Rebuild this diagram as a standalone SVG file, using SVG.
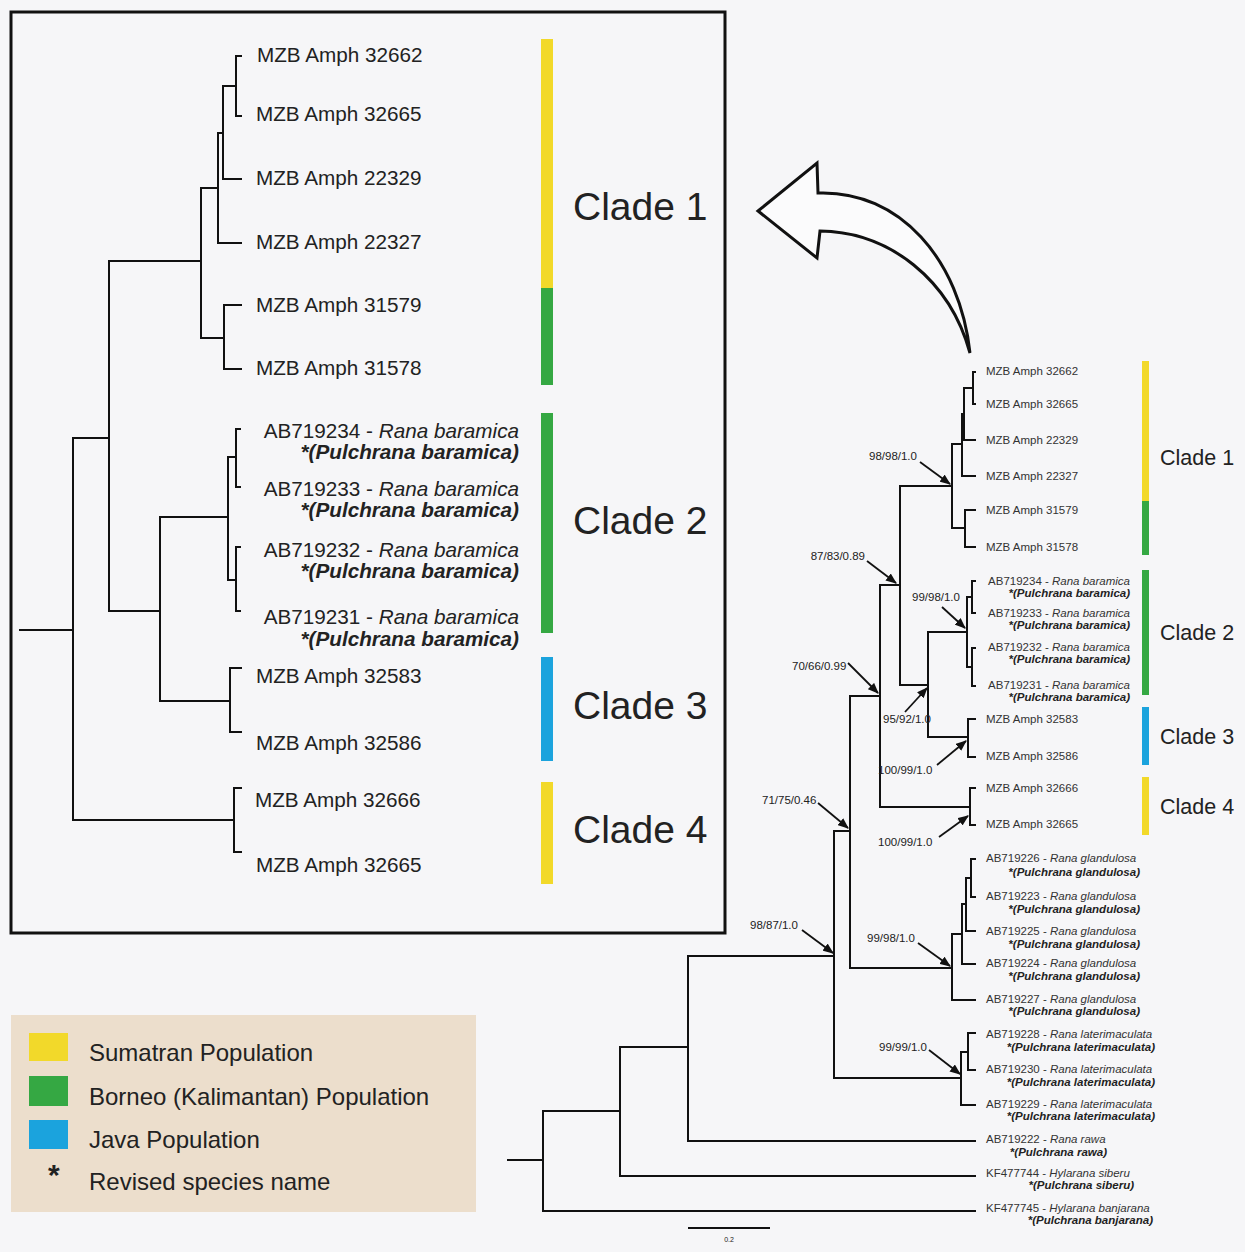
<svg xmlns="http://www.w3.org/2000/svg" width="1245" height="1252" viewBox="0 0 1245 1252">
<defs>
<style>
.t{font-family:"Liberation Sans",Arial,sans-serif;fill:#222}
.L{font-size:20.7px}
.Li{font-size:20.7px;font-style:italic}
.Lb{font-size:20.7px;font-style:italic;font-weight:bold}
.C{font-size:39px}
.R{font-size:11.5px;fill:#333}
.Rb{font-size:11.5px;font-style:italic;font-weight:bold;fill:#222}
.RC{font-size:21.5px}
.A{font-size:11.5px;fill:#222}
.G{font-size:24px}
.br{fill:none;stroke:#111;stroke-width:2;stroke-linecap:square}
.ar{fill:none;stroke:#111;stroke-width:1.8}
</style>
<marker id="ah" viewBox="0 0 10 8" refX="9" refY="4" markerWidth="11" markerHeight="9" markerUnits="userSpaceOnUse" orient="auto">
<path d="M0,0 L10,4 L0,8 Z" fill="#111"/>
</marker>
</defs>
<rect x="0" y="0" width="1245" height="1252" fill="#f6f6f8"/>

<!-- inset frame -->
<g id="inset">
<rect x="11" y="12" width="714" height="921" fill="none" stroke="#111" stroke-width="3"/>
</g>

<!-- connectors: tree branches -->
<g id="connectors">
<!-- inset tree -->
<path class="br" d="M20,630 H73"/>
<path class="br" d="M109,438 H73 V820 H234"/>
<path class="br" d="M201,261 H109 V611 H160"/>
<path class="br" d="M218,188 H201 V338 H224"/>
<path class="br" d="M223,133 H218 V243 H241"/>
<path class="br" d="M236,86 H223 V179 H241"/>
<path class="br" d="M241,56 H236 V116 H241"/>
<path class="br" d="M241,305 H224 V369 H241"/>
<path class="br" d="M228,517 H160 V701 H230"/>
<path class="br" d="M236,457 H228 V580 H236"/>
<path class="br" d="M240,429 H236 V487 H240"/>
<path class="br" d="M240,547 H236 V611 H240"/>
<path class="br" d="M241,668 H230 V732 H241"/>
<path class="br" d="M241,788 H234 V852 H241"/>
<!-- main tree -->
<path class="br" d="M508,1160 H543"/>
<path class="br" d="M620,1111 H543 V1211 H975"/>
<path class="br" d="M688,1047 H620 V1176 H975"/>
<path class="br" d="M834,956 H688 V1141 H975"/>
<path class="br" d="M850,831 H834 V1078 H961"/>
<path class="br" d="M880,696 H850 V968 H952"/>
<path class="br" d="M900,585 H880 V807 H970"/>
<path class="br" d="M952,486 H900 V685 H928"/>
<path class="br" d="M962,444 H952 V528 H965"/>
<path class="br" d="M964,414 H962 V476 H975"/>
<path class="br" d="M973,388 H964 V440 H975"/>
<path class="br" d="M975,372 H973 V404 H975"/>
<path class="br" d="M975,510 H965 V547 H975"/>
<path class="br" d="M967,632 H928 V737 H968"/>
<path class="br" d="M972,597 H967 V667 H972"/>
<path class="br" d="M975,581 H972 V613 H975"/>
<path class="br" d="M975,648 H972 V686 H975"/>
<path class="br" d="M975,719 H968 V757 H975"/>
<path class="br" d="M975,788 H970 V825 H975"/>
<path class="br" d="M962,934 H952 V1000 H975"/>
<path class="br" d="M966,904 H962 V964 H975"/>
<path class="br" d="M971,878 H966 V931 H975"/>
<path class="br" d="M975,859 H971 V897 H975"/>
<path class="br" d="M968,1052 H961 V1105 H975"/>
<path class="br" d="M975,1033 H968 V1070 H975"/>
<!-- support arrows -->
<line class="ar" x1="920" y1="462" x2="950" y2="484" marker-end="url(#ah)"/>
<line class="ar" x1="867" y1="561" x2="896" y2="583" marker-end="url(#ah)"/>
<line class="ar" x1="942" y1="607" x2="965" y2="628" marker-end="url(#ah)"/>
<line class="ar" x1="848" y1="663" x2="878" y2="693" marker-end="url(#ah)"/>
<line class="ar" x1="905" y1="712" x2="927" y2="688" marker-end="url(#ah)"/>
<line class="ar" x1="937" y1="765" x2="966" y2="741" marker-end="url(#ah)"/>
<line class="ar" x1="818" y1="803" x2="848" y2="828" marker-end="url(#ah)"/>
<line class="ar" x1="939" y1="837" x2="968" y2="816" marker-end="url(#ah)"/>
<line class="ar" x1="802" y1="930" x2="833" y2="953" marker-end="url(#ah)"/>
<line class="ar" x1="918" y1="943" x2="950" y2="966" marker-end="url(#ah)"/>
<line class="ar" x1="929" y1="1050" x2="960" y2="1074" marker-end="url(#ah)"/>
<!-- scale bar -->
<path d="M688,1228 H770" stroke="#111" stroke-width="2"/>
</g>

<!-- big curved arrow -->
<g id="zoom-arrow">
<path d="M758,211 L817,163 L818,193 C900,190 960,260 970,353 C950,280 890,232 820,231 L817,258 Z" fill="#fbfbfc" stroke="#111" stroke-width="3" stroke-linejoin="miter"/>
</g>

<!-- inset leaves -->
<g id="inset-leaves">
<text class="t L" x="257" y="62">MZB Amph 32662</text>
<text class="t L" x="256" y="121">MZB Amph 32665</text>
<text class="t L" x="256" y="185">MZB Amph 22329</text>
<text class="t L" x="256" y="249">MZB Amph 22327</text>
<text class="t L" x="256" y="312">MZB Amph 31579</text>
<text class="t L" x="256" y="375">MZB Amph 31578</text>
<text class="t L" x="519" y="438" text-anchor="end">AB719234 - <tspan class="Li">Rana baramica</tspan></text>
<text class="t Lb" x="519" y="459" text-anchor="end">*(Pulchrana baramica)</text>
<text class="t L" x="519" y="496" text-anchor="end">AB719233 - <tspan class="Li">Rana baramica</tspan></text>
<text class="t Lb" x="519" y="517" text-anchor="end">*(Pulchrana baramica)</text>
<text class="t L" x="519" y="557" text-anchor="end">AB719232 - <tspan class="Li">Rana baramica</tspan></text>
<text class="t Lb" x="519" y="578" text-anchor="end">*(Pulchrana baramica)</text>
<text class="t L" x="519" y="624" text-anchor="end">AB719231 - <tspan class="Li">Rana baramica</tspan></text>
<text class="t Lb" x="519" y="646" text-anchor="end">*(Pulchrana baramica)</text>
<text class="t L" x="256" y="683">MZB Amph 32583</text>
<text class="t L" x="256" y="750">MZB Amph 32586</text>
<text class="t L" x="255" y="807">MZB Amph 32666</text>
<text class="t L" x="256" y="872">MZB Amph 32665</text>
</g>

<!-- inset clade bars -->
<g id="inset-clade1">
<rect x="541" y="39" width="12" height="249" fill="#f2d92a"/>
<rect x="541" y="288" width="12" height="97" fill="#35a843"/>
<text class="t C" x="573" y="220">Clade 1</text>
</g>
<g id="inset-clade2">
<rect x="541" y="413" width="12" height="220" fill="#35a843"/>
<text class="t C" x="573" y="534">Clade 2</text>
</g>
<g id="inset-clade3">
<rect x="541" y="657" width="12" height="104" fill="#1ba3dd"/>
<text class="t C" x="573" y="719">Clade 3</text>
</g>
<g id="inset-clade4">
<rect x="541" y="782" width="12" height="102" fill="#f2d92a"/>
<text class="t C" x="573" y="843">Clade 4</text>
</g>

<!-- main tree leaves -->
<g id="main-leaves">
<text class="t R" x="986" y="375">MZB Amph 32662</text>
<text class="t R" x="986" y="408">MZB Amph 32665</text>
<text class="t R" x="986" y="444">MZB Amph 22329</text>
<text class="t R" x="986" y="480">MZB Amph 22327</text>
<text class="t R" x="986" y="514">MZB Amph 31579</text>
<text class="t R" x="986" y="551">MZB Amph 31578</text>
<text class="t R" x="1130" y="585" text-anchor="end">AB719234 - <tspan font-style="italic">Rana baramica</tspan></text>
<text class="t Rb" x="1130" y="597" text-anchor="end">*(Pulchrana baramica)</text>
<text class="t R" x="1130" y="617" text-anchor="end">AB719233 - <tspan font-style="italic">Rana baramica</tspan></text>
<text class="t Rb" x="1130" y="629" text-anchor="end">*(Pulchrana baramica)</text>
<text class="t R" x="1130" y="651" text-anchor="end">AB719232 - <tspan font-style="italic">Rana baramica</tspan></text>
<text class="t Rb" x="1130" y="663" text-anchor="end">*(Pulchrana baramica)</text>
<text class="t R" x="1130" y="689" text-anchor="end">AB719231 - <tspan font-style="italic">Rana baramica</tspan></text>
<text class="t Rb" x="1130" y="701" text-anchor="end">*(Pulchrana baramica)</text>
<text class="t R" x="986" y="723">MZB Amph 32583</text>
<text class="t R" x="986" y="760">MZB Amph 32586</text>
<text class="t R" x="986" y="792">MZB Amph 32666</text>
<text class="t R" x="986" y="828">MZB Amph 32665</text>
<text class="t R" x="986" y="862">AB719226 - <tspan font-style="italic">Rana glandulosa</tspan></text>
<text class="t Rb" x="1140" y="876" text-anchor="end">*(Pulchrana glandulosa)</text>
<text class="t R" x="986" y="900">AB719223 - <tspan font-style="italic">Rana glandulosa</tspan></text>
<text class="t Rb" x="1140" y="913" text-anchor="end">*(Pulchrana glandulosa)</text>
<text class="t R" x="986" y="935">AB719225 - <tspan font-style="italic">Rana glandulosa</tspan></text>
<text class="t Rb" x="1140" y="948" text-anchor="end">*(Pulchrana glandulosa)</text>
<text class="t R" x="986" y="967">AB719224 - <tspan font-style="italic">Rana glandulosa</tspan></text>
<text class="t Rb" x="1140" y="980" text-anchor="end">*(Pulchrana glandulosa)</text>
<text class="t R" x="986" y="1003">AB719227 - <tspan font-style="italic">Rana glandulosa</tspan></text>
<text class="t Rb" x="1140" y="1015" text-anchor="end">*(Pulchrana glandulosa)</text>
<text class="t R" x="986" y="1038">AB719228 - <tspan font-style="italic">Rana laterimaculata</tspan></text>
<text class="t Rb" x="1155" y="1051" text-anchor="end">*(Pulchrana laterimaculata)</text>
<text class="t R" x="986" y="1073">AB719230 - <tspan font-style="italic">Rana laterimaculata</tspan></text>
<text class="t Rb" x="1155" y="1086" text-anchor="end">*(Pulchrana laterimaculata)</text>
<text class="t R" x="986" y="1108">AB719229 - <tspan font-style="italic">Rana laterimaculata</tspan></text>
<text class="t Rb" x="1155" y="1120" text-anchor="end">*(Pulchrana laterimaculata)</text>
<text class="t R" x="986" y="1143">AB719222 - <tspan font-style="italic">Rana rawa</tspan></text>
<text class="t Rb" x="1107" y="1156" text-anchor="end">*(Pulchrana rawa)</text>
<text class="t R" x="986" y="1177">KF477744 - <tspan font-style="italic">Hylarana siberu</tspan></text>
<text class="t Rb" x="1134" y="1189" text-anchor="end">*(Pulchrana siberu)</text>
<text class="t R" x="986" y="1212">KF477745 - <tspan font-style="italic">Hylarana banjarana</tspan></text>
<text class="t Rb" x="1153" y="1224" text-anchor="end">*(Pulchrana banjarana)</text>
</g>

<!-- support values -->
<g id="supports">
<text class="t A" x="869" y="460">98/98/1.0</text>
<text class="t A" x="865" y="560" text-anchor="end">87/83/0.89</text>
<text class="t A" x="912" y="601">99/98/1.0</text>
<text class="t A" x="792" y="670">70/66/0.99</text>
<text class="t A" x="883" y="723" font-size="10.5" fill="#444">95/92/1.0</text>
<text class="t A" x="878" y="774">100/99/1.0</text>
<text class="t A" x="762" y="804">71/75/0.46</text>
<text class="t A" x="878" y="846">100/99/1.0</text>
<text class="t A" x="750" y="929">98/87/1.0</text>
<text class="t A" x="867" y="942">99/98/1.0</text>
<text class="t A" x="879" y="1051">99/99/1.0</text>
<text class="t" x="729" y="1242" font-size="7" text-anchor="middle">0.2</text>
</g>

<!-- main clade bars -->
<g id="main-clade1">
<rect x="1142" y="361" width="7" height="140" fill="#f2d92a"/>
<rect x="1142" y="501" width="7" height="54" fill="#35a843"/>
<text class="t RC" x="1160" y="465">Clade 1</text>
</g>
<g id="main-clade2">
<rect x="1142" y="570" width="7" height="125" fill="#35a843"/>
<text class="t RC" x="1160" y="640">Clade 2</text>
</g>
<g id="main-clade3">
<rect x="1142" y="707" width="7" height="58" fill="#1ba3dd"/>
<text class="t RC" x="1160" y="744">Clade 3</text>
</g>
<g id="main-clade4">
<rect x="1142" y="777" width="7" height="58" fill="#f2d92a"/>
<text class="t RC" x="1160" y="814">Clade 4</text>
</g>

<!-- legend -->
<g id="legend">
<rect x="11" y="1015" width="465" height="197" fill="#ecdecc"/>
<rect x="29" y="1033" width="39" height="28" fill="#f2d92a"/>
<rect x="29" y="1076" width="39" height="30" fill="#35a843"/>
<rect x="29" y="1120" width="39" height="29" fill="#1ba3dd"/>
<text class="t G" x="89" y="1061">Sumatran Population</text>
<text class="t G" x="89" y="1105">Borneo (Kalimantan) Population</text>
<text class="t G" x="89" y="1148">Java Population</text>
<text class="t" x="48" y="1185" font-size="30" font-weight="bold">*</text>
<text class="t G" x="89" y="1190">Revised species name</text>
</g>
</svg>
